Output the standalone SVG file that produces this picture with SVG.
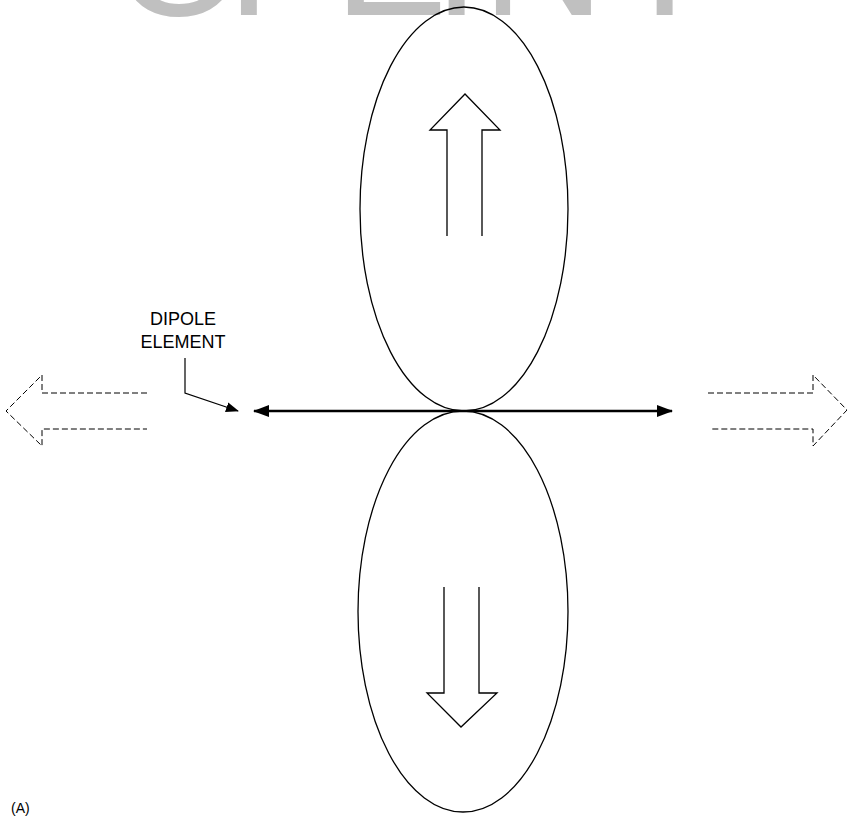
<svg xmlns="http://www.w3.org/2000/svg" width="847" height="820" viewBox="0 0 847 820">
<style>
.lobe{fill:none;stroke:#000;stroke-width:1.3}
.block{fill:none;stroke:#000;stroke-width:1.3;stroke-linejoin:miter}
.dash{fill:none;stroke:#000;stroke-width:1;stroke-dasharray:6 3}
.lbl{font-family:"Liberation Sans",Arial,sans-serif;fill:#000}
.wm{font-family:"Liberation Sans",Arial,sans-serif;fill:#c0c0c0;font-size:170px}
</style>
<defs>
<marker id="ah" viewBox="0 0 16 12" refX="15" refY="6" markerWidth="16" markerHeight="12" markerUnits="userSpaceOnUse" orient="auto-start-reverse">
<path d="M0,0 L16,6 L0,12 Z" fill="#000"/>
</marker>
<marker id="ah2" viewBox="0 0 13 10" refX="12" refY="5" markerWidth="13" markerHeight="10" markerUnits="userSpaceOnUse" orient="auto">
<path d="M0,0 L13,5 L0,10 Z" fill="#000"/>
</marker>
</defs>
<rect width="847" height="820" fill="#fff"/>
<g id="watermark">
<text class="wm" x="113 227 334 433 482 641" y="14.5">OPEINI</text>
</g>
<g id="upper-lobe">
<ellipse class="lobe" cx="464" cy="209" rx="104" ry="202"/>
<path class="block" d="M447,236 V130 H430 L465,94 L500,130 H482 V236"/>
</g>
<g id="lower-lobe">
<ellipse class="lobe" cx="463" cy="611.5" rx="105" ry="200.5"/>
<path class="block" d="M444,587 V693 H427 L461,727 L497,693 H479 V587"/>
</g>
<g id="left-wave">
<path class="dash" d="M147,393 H42 V375 L6,411 L42,446 V429 H147"/>
</g>
<g id="right-wave">
<path class="dash" d="M708,393 H813 V375 L847,410 L813,446 V429 H710"/>
</g>
<g id="connectors">
<line x1="254" y1="411" x2="672" y2="411" stroke="#000" stroke-width="2.5" marker-start="url(#ah)" marker-end="url(#ah)"/>
<polyline points="185,358 185,393 238,411" fill="none" stroke="#000" stroke-width="1.2" marker-end="url(#ah2)"/>
</g>
<g id="label">
<text class="lbl" x="183" y="325" font-size="18" text-anchor="middle">DIPOLE</text>
<text class="lbl" x="183" y="348" font-size="18" text-anchor="middle">ELEMENT</text>
</g>
<text class="lbl" x="11" y="813" font-size="14">(A)</text>
</svg>
